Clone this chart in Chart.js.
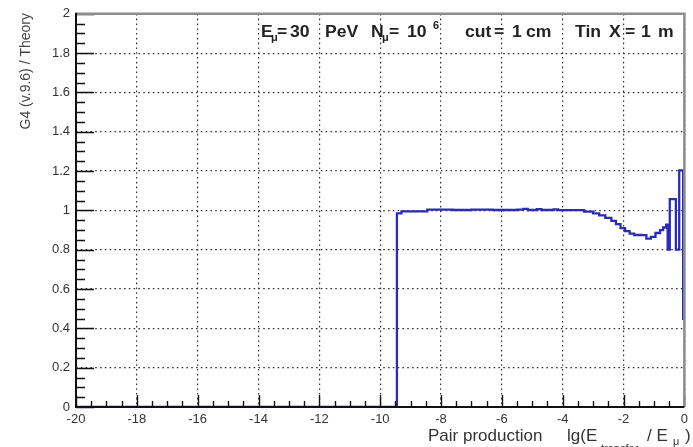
<!DOCTYPE html>
<html><head><meta charset="utf-8">
<script src="https://cdn.jsdelivr.net/npm/chart.js@4/dist/chart.umd.min.js"></script>
<style>html,body{margin:0;padding:0;background:#fff;overflow:hidden}canvas{display:block}</style>
</head><body>
<canvas id="c" width="693" height="447"></canvas>
<script>
// Bin left edges (lg(E_transfer/E_mu)); last entry closes the final bin at 0
const lgTransfer = [-20, -9.45, -9.3, -8.45, -7.6, -7.0, -6.3, -5.5, -5.3, -5.15, -4.85, -4.7, -4.3, -4.15,
  -3.3, -3.0, -2.8, -2.6, -2.4, -2.25, -2.1, -1.95, -1.8, -1.65, -1.4, -1.25, -1.1, -0.95, -0.8, -0.7, -0.6,
  -0.55, -0.48, -0.28, -0.17, -0.04, 0];
// G4 (v.9.6) / Theory ratio for each bin
const g4OverTheory = [0, 0.985, 0.995, 1.004, 1.002, 1.004, 1.002, 1.004, 1.008, 1.002, 1.006, 1.002, 1.005, 1.001,
  0.994, 0.985, 0.975, 0.962, 0.947, 0.93, 0.91, 0.895, 0.882, 0.875, 0.874, 0.856, 0.865, 0.885, 0.9, 0.913, 0.928,
  0.80, 1.057, 0.80, 1.204, 0.449, 0.449];
const xAxisRange = [-20, 0];
const yAxisRange = [0, 2];
const xMajorStep = 2, xMinorStep = 0.5;
const yMajorStep = 0.2, yMinorStep = 0.05;
const annotationParts = ["E", "μ", "=", "30", "PeV", "N", "μ", "=", "10", "6", "cut", "=", "1", "cm", "Tin", "X", "=", "1", "m"];
const yTitle = "G4 (v.9.6) / Theory";
const xTitleParts = ["Pair production", "lg(E", "transfer", "/ E", "μ", ")"];

const FONT = '"Liberation Sans", Arial, Helvetica, sans-serif';

const rootDecor = {
  id: 'rootDecor',
  afterDatasetsDraw(chart) {
    const {ctx, chartArea: a, scales: {x, y}} = chart;
    ctx.save();
    // tick marks (inside frame, ROOT style)
    ctx.strokeStyle = '#111';
    ctx.lineWidth = 1.4;
    ctx.beginPath();
    const nx = Math.round((xAxisRange[1] - xAxisRange[0]) / xMinorStep);
    const perMajX = Math.round(xMajorStep / xMinorStep);
    for (let i = 0; i <= nx; i++) {
      const px = Math.round(x.getPixelForValue(xAxisRange[0] + i * xMinorStep)) + 0.5;
      const len = (i % perMajX === 0) ? 12 : 6;
      ctx.moveTo(px, a.bottom);
      ctx.lineTo(px, a.bottom - len);
    }
    const ny = Math.round((yAxisRange[1] - yAxisRange[0]) / yMinorStep);
    const perMajY = Math.round(yMajorStep / yMinorStep);
    for (let i = 0; i <= ny; i++) {
      const py = Math.round(y.getPixelForValue(yAxisRange[0] + i * yMinorStep)) + 0.5;
      const len = (i % perMajY === 0) ? 18 : 9;
      ctx.moveTo(a.left, py);
      ctx.lineTo(a.left + len, py);
    }
    ctx.stroke();
    // frame
    ctx.strokeStyle = '#8c8c8c';
    ctx.lineWidth = 2.5;
    ctx.beginPath();
    ctx.moveTo(a.left, a.top); ctx.lineTo(a.right, a.top); ctx.lineTo(a.right, a.bottom);
    ctx.stroke();
    ctx.strokeStyle = '#111';
    ctx.lineWidth = 2;
    ctx.beginPath();
    ctx.moveTo(a.left, a.top - 1); ctx.lineTo(a.left, a.bottom); ctx.lineTo(a.right, a.bottom);
    ctx.stroke();

    // annotation text (wide ROOT-like glyphs)
    ctx.fillStyle = '#222';
    ctx.textBaseline = 'alphabetic';
    ctx.textAlign = 'left';
    const put = (t, px, py, f, sx) => {
      ctx.save(); ctx.translate(px, py); ctx.scale(sx || 1, 1);
      ctx.font = f; ctx.fillText(t, 0, 0); ctx.restore();
    };
    const big = 'bold 16px ' + FONT, small = 'bold 10px ' + FONT;
    const yb = 37, sx = 1.1;
    const ap = annotationParts;
    const spots = [[261, 0], [271, 4], [277, 0], [290, 0], [325, 0], [371, 0], [382, 4], [389, 0], [407, 0], [433, -8],
      [465, 0], [494, 0], [512, 0], [526, 0], [575, 0], [609, 0], [625, 0], [641, 0], [658, 0]];
    ap.forEach((t, i) => {
      const s = spots[i];
      put(t, s[0], yb + s[1], s[1] === 0 ? big : small, sx);
    });

    // x title
    ctx.fillStyle = '#333';
    const tf = '17px ' + FONT, sf = '11px ' + FONT;
    const xb = 441;
    put(xTitleParts[0], 428, xb, tf);
    put(xTitleParts[1], 567, xb, tf);
    put(xTitleParts[2], 601, xb + 11, sf);
    put(xTitleParts[3], 647, xb, tf);
    put(xTitleParts[4], 673, xb + 4, sf);
    put(xTitleParts[5], 685, xb, tf);

    // y title (rotated, aligned to top)
    ctx.translate(30, 13);
    ctx.rotate(-Math.PI / 2);
    ctx.font = '14px ' + FONT;
    ctx.textAlign = 'right';
    ctx.fillStyle = '#444';
    ctx.fillText(yTitle, 0, 0);
    ctx.restore();
  }
};

new Chart(document.getElementById('c'), {
  type: 'line',
  data: {
    datasets: [{
      data: lgTransfer.map((v, i) => ({x: v, y: g4OverTheory[i]})),
      stepped: 'before',
      borderColor: '#2b2bb5',
      borderWidth: 2.3,
      pointRadius: 0,
      fill: false,
      tension: 0
    }]
  },
  options: {
    responsive: false,
    animation: false,
    devicePixelRatio: 1,
    events: [],
    layout: {autoPadding: false, padding: {top: 12, right: 1, left: 0, bottom: 0}},
    plugins: {legend: {display: false}, tooltip: {enabled: false}},
    scales: {
      x: {
        type: 'linear', min: xAxisRange[0], max: xAxisRange[1],
        afterFit: s => { s.height = 40; },
        grid: {color: '#333', lineWidth: 1.2, drawTicks: false},
        border: {display: false, dash: [1.6, 3.2]},
        ticks: {stepSize: xMajorStep, padding: 5, color: '#333', font: {family: FONT, size: 13}, maxRotation: 0, autoSkip: false}
      },
      y: {
        min: yAxisRange[0], max: yAxisRange[1],
        afterFit: s => { s.width = 76; },
        grid: {color: '#333', lineWidth: 1.2, drawTicks: false},
        border: {display: false, dash: [1.6, 3.2]},
        ticks: {stepSize: yMajorStep, padding: 6, color: '#333', font: {family: FONT, size: 13},
          callback: v => String(Math.round(v * 10) / 10)}
      }
    }
  },
  plugins: [rootDecor]
});
</script>
</body></html>
